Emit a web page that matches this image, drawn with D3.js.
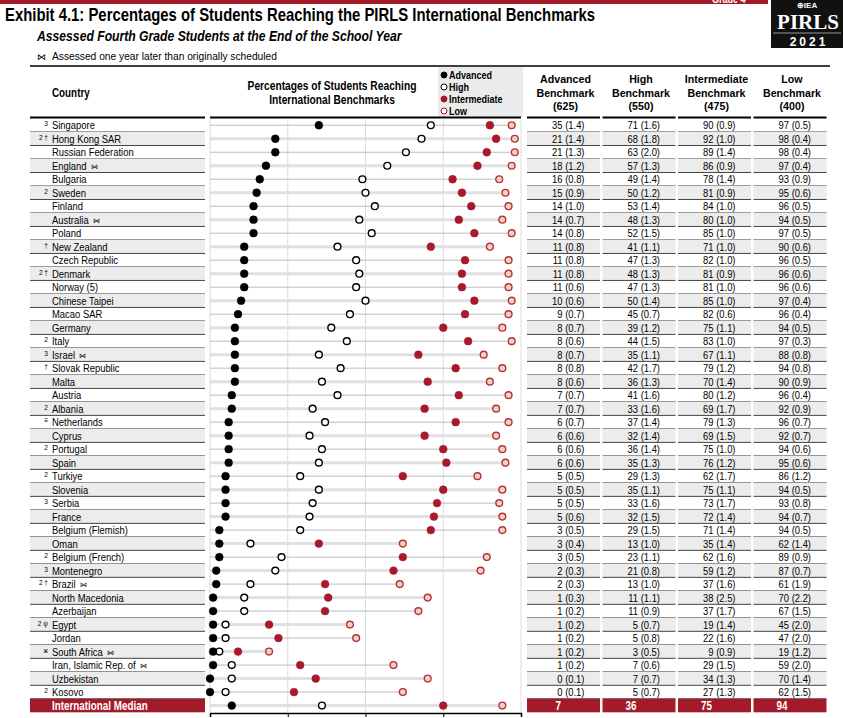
<!DOCTYPE html>
<html>
<head>
<meta charset="utf-8">
<script src="https://cdn.jsdelivr.net/npm/d3@7"></script>
<style>
  body { margin: 0; background: #fff; }
  svg text { font-family: "Liberation Sans", Arial, sans-serif; }
</style>
</head>
<body>
<svg id="chart"></svg>
<script>
const countries = [
  "Singapore", "Hong Kong SAR", "Russian Federation", "England", "Bulgaria",
  "Sweden", "Finland", "Australia", "Poland", "New Zealand", "Czech Republic",
  "Denmark", "Norway (5)", "Chinese Taipei", "Macao SAR", "Germany", "Italy",
  "Israel", "Slovak Republic", "Malta", "Austria", "Albania", "Netherlands",
  "Cyprus", "Portugal", "Spain", "Turkiye", "Slovenia", "Serbia", "France",
  "Belgium (Flemish)", "Oman", "Belgium (French)", "Montenegro", "Brazil",
  "North Macedonia", "Azerbaijan", "Egypt", "Jordan", "South Africa",
  "Iran, Islamic Rep. of", "Uzbekistan", "Kosovo"
];
const footnotes = [
  "3", "2 †", "", "", "", "2", "", "", "", "†", "", "2 †", "", "", "", "", "2",
  "3", "†", "", "", "2", "≡", "", "2", "", "2", "", "3", "", "", "", "2", "3",
  "2 †", "", "", "2 ψ", "", "ж", "", "", "2"
];
const delayed = [
  "England", "Australia", "Israel", "Brazil", "South Africa", "Iran, Islamic Rep. of"
];
const advanced = [35, 21, 21, 18, 16, 15, 14, 14, 14, 11, 11, 11, 11, 10, 9, 8, 8, 8, 8, 8, 7, 7, 6, 6, 6, 6, 5, 5, 5, 5, 3, 3, 3, 2, 2, 1, 1, 1, 1, 1, 1, 0, 0];
const advancedSE = ["1.4", "1.4", "1.3", "1.2", "0.8", "0.9", "1.0", "0.7", "0.8", "0.8", "0.8", "0.8", "0.6", "0.6", "0.7", "0.7", "0.6", "0.7", "0.8", "0.6", "0.7", "0.7", "0.7", "0.6", "0.6", "0.6", "0.5", "0.5", "0.5", "0.6", "0.5", "0.4", "0.5", "0.3", "0.3", "0.3", "0.2", "0.2", "0.2", "0.2", "0.2", "0.1", "0.1"];
const high = [71, 68, 63, 57, 49, 50, 53, 48, 52, 41, 47, 48, 47, 50, 45, 39, 44, 35, 42, 36, 41, 33, 37, 32, 36, 35, 29, 35, 33, 32, 29, 13, 23, 21, 13, 11, 11, 5, 5, 3, 7, 7, 5];
const highSE = ["1.6", "1.8", "2.0", "1.3", "1.4", "1.2", "1.4", "1.3", "1.5", "1.1", "1.3", "1.3", "1.3", "1.4", "0.7", "1.2", "1.5", "1.1", "1.7", "1.3", "1.6", "1.6", "1.4", "1.4", "1.4", "1.3", "1.3", "1.1", "1.6", "1.5", "1.5", "1.0", "1.1", "0.8", "1.0", "1.1", "0.9", "0.7", "0.8", "0.5", "0.6", "0.7", "0.7"];
const intermediate = [90, 92, 89, 86, 78, 81, 84, 80, 85, 71, 82, 81, 81, 85, 82, 75, 83, 67, 79, 70, 80, 69, 79, 69, 75, 76, 62, 75, 73, 72, 71, 35, 62, 59, 37, 38, 37, 19, 22, 9, 29, 34, 27];
const intermediateSE = ["0.9", "1.0", "1.4", "0.9", "1.4", "0.9", "1.0", "1.0", "1.0", "1.0", "1.0", "0.9", "1.0", "1.0", "0.6", "1.1", "1.0", "1.1", "1.2", "1.4", "1.2", "1.7", "1.3", "1.5", "1.0", "1.2", "1.7", "1.1", "1.7", "1.4", "1.4", "1.4", "1.6", "1.2", "1.6", "2.5", "1.7", "1.4", "1.6", "0.9", "1.5", "1.3", "1.3"];
const low = [97, 98, 98, 97, 93, 95, 96, 94, 97, 90, 96, 96, 96, 97, 96, 94, 97, 88, 94, 90, 96, 92, 96, 92, 94, 95, 86, 94, 93, 94, 94, 62, 89, 87, 61, 70, 67, 45, 47, 19, 59, 70, 62];
const lowSE = ["0.5", "0.4", "0.4", "0.4", "0.9", "0.6", "0.5", "0.5", "0.5", "0.6", "0.5", "0.6", "0.6", "0.4", "0.4", "0.5", "0.3", "0.8", "0.8", "0.9", "0.4", "0.9", "0.7", "0.7", "0.6", "0.6", "1.2", "0.5", "0.8", "0.7", "0.5", "1.4", "0.9", "0.7", "1.9", "2.2", "1.5", "2.0", "2.0", "1.2", "2.0", "1.4", "1.5"];
const medianValues = [7, 36, 75, 94];
const benchmarks = ["Advanced", "High", "Intermediate", "Low"];
const cutScores = [625, 550, 475, 400];
const axisTicks = [0, 25, 50, 75, 100];

const W = 843, H = 718;
const RED = "#a31b2a";
const NARROW = 0.82; // squeeze Liberation Sans to look like Arial Narrow

const svg = d3.select("#chart").attr("width", W).attr("height", H);

// squeeze one text element horizontally about its anchor point, returns new width
function narrow(t, f = NARROW) {
  const node = t.node();
  const len = node.getComputedTextLength();
  const tx = +t.attr("x"), ty = +t.attr("y");
  t.attr("x", 0).attr("y", 0).attr("transform", `translate(${tx},${ty}) scale(${f},1)`);
  return len * f;
}

// --- top banner and logo
svg.append("rect").attr("x", 0).attr("y", 0).attr("width", 768).attr("height", 4).attr("fill", RED);
narrow(svg.append("text").attr("x", 712).attr("y", 3).attr("fill", "#fff")
  .attr("font-size", 11).attr("font-weight", "bold").text("Grade 4"));
const logo = svg.append("g");
logo.append("rect").attr("x", 771).attr("y", 0).attr("width", 72).attr("height", 48).attr("fill", "#111");
logo.append("text").attr("x", 807).attr("y", 8).attr("text-anchor", "middle").attr("fill", "#fff")
  .attr("font-size", 8).attr("font-weight", "bold").text("⊕IEA");
logo.append("text").attr("x", 808).attr("y", 29).attr("text-anchor", "middle").attr("fill", "#fff")
  .style("font-family", "'Liberation Serif', 'DejaVu Serif', serif")
  .attr("font-size", 21).attr("font-weight", "bold").text("PIRLS");
logo.append("line").attr("x1", 773).attr("x2", 841).attr("y1", 33).attr("y2", 33)
  .attr("stroke", "#999").attr("stroke-width", 1);
logo.append("text").attr("x", 809).attr("y", 46).attr("text-anchor", "middle").attr("fill", "#fff")
  .attr("font-size", 12).attr("font-weight", "bold").attr("letter-spacing", 3).text("2021");

// --- titles
narrow(svg.append("text").attr("x", 5).attr("y", 21).attr("font-size", 17.5).attr("font-weight", "bold")
  .text("Exhibit 4.1: Percentages of Students Reaching the PIRLS International Benchmarks"), 0.85);
narrow(svg.append("text").attr("x", 37).attr("y", 41).attr("font-size", 14).attr("font-weight", "bold")
  .attr("font-style", "italic").text("Assessed Fourth Grade Students at the End of the School Year"), 0.87);
svg.append("text").attr("x", 37).attr("y", 60).attr("font-size", 9).text("⋈");
narrow(svg.append("text").attr("x", 52).attr("y", 60).attr("font-size", 11)
  .text("Assessed one year later than originally scheduled"), 0.93);

// --- layout
const rows = countries.map((c, i) => ({
  name: c, mark: footnotes[i], delayed: delayed.includes(c),
  values: [advanced[i], high[i], intermediate[i], low[i]],
  se: [advancedSE[i], highSE[i], intermediateSE[i], lowSE[i]]
}));
const allRows = rows.concat([{ name: "International Median", median: true, values: medianValues }]);

const y = d3.scaleBand().domain(d3.range(allRows.length)).range([118.5, 712.3]);
const x = d3.scaleLinear().domain([0, 100]).range([210, 521]);
const countryCol = [30, 205];
const colLefts = [527, 602.5, 678, 753.5];
const colW = 73;

// --- header
svg.append("line").attr("x1", 30).attr("x2", 830).attr("y1", 66).attr("y2", 66)
  .attr("stroke", "#000").attr("stroke-width", 1.5);
narrow(svg.append("text").attr("x", 52).attr("y", 97).attr("font-size", 12).attr("font-weight", "bold").text("Country"));
narrow(svg.append("text").attr("x", 332).attr("y", 90).attr("text-anchor", "middle")
  .attr("font-size", 12).attr("font-weight", "bold").text("Percentages of Students Reaching"), 0.854);
narrow(svg.append("text").attr("x", 332).attr("y", 104).attr("text-anchor", "middle")
  .attr("font-size", 12).attr("font-weight", "bold").text("International Benchmarks"), 0.854);

// legend box
svg.append("rect").attr("x", 438).attr("y", 67).attr("width", 85).attr("height", 50).attr("fill", "#ebebeb");
const legendStyle = [
  { fill: "#000", stroke: "#000" },
  { fill: "#fff", stroke: "#000" },
  { fill: RED, stroke: RED },
  { fill: "#fff", stroke: RED }
];
benchmarks.forEach((b, i) => {
  const ly = 75 + i * 12;
  svg.append("circle").attr("cx", 444).attr("cy", ly).attr("r", 3)
    .attr("fill", legendStyle[i].fill).attr("stroke", legendStyle[i].stroke).attr("stroke-width", 1);
  narrow(svg.append("text").attr("x", 449).attr("y", ly + 3.6).attr("font-size", 10.5).attr("font-weight", "bold")
    .text(b), 0.86);
});

// benchmark column headers
benchmarks.forEach((b, i) => {
  const cx = colLefts[i] + colW / 2 + 2;
  [b, "Benchmark", `(${cutScores[i]})`].forEach((s, k) => {
    narrow(svg.append("text").attr("x", cx).attr("y", 83 + k * 13.5).attr("text-anchor", "middle")
      .attr("font-size", 11.5).attr("font-weight", "bold").text(s), 0.927);
  });
});

// header bottom rules per column
[countryCol, [210, 521]].concat(colLefts.map(l => [l, l + colW])).forEach(([a, b]) => {
  svg.append("line").attr("x1", a).attr("x2", b).attr("y1", 117.5).attr("y2", 117.5)
    .attr("stroke", "#000").attr("stroke-width", 2);
});

// --- row backgrounds
const bgCols = [countryCol].concat(colLefts.map(l => [l, l + colW]));
allRows.forEach((r, i) => {
  const top = y(i), h = y.bandwidth();
  bgCols.forEach(([a, b]) => {
    if (r.median) {
      svg.append("rect").attr("x", a).attr("y", top).attr("width", b - a).attr("height", h).attr("fill", RED);
    } else {
      if (i % 2 === 1) {
        svg.append("rect").attr("x", a).attr("y", top).attr("width", b - a).attr("height", h).attr("fill", "#ececec");
      }
      svg.append("line").attr("x1", a).attr("x2", b).attr("y1", top + h).attr("y2", top + h)
        .attr("stroke", "#444").attr("stroke-width", 1);
    }
  });
});

// --- plot gridlines
svg.append("g").selectAll("line").data(axisTicks).join("line")
  .attr("x1", d => x(d)).attr("x2", d => x(d))
  .attr("y1", 118.5).attr("y2", 712.3)
  .attr("stroke", "#dcdcdc").attr("stroke-width", 1);

// row lines 0 -> Low
allRows.forEach((r, i) => {
  const cy = y(i) + y.bandwidth() / 2;
  const odd = i % 2 === 1;
  svg.append("line").attr("x1", x(0)).attr("x2", x(r.values[3]))
    .attr("y1", cy).attr("y2", cy)
    .attr("stroke", odd ? "#e0e0e0" : "#bdbdbd").attr("stroke-width", odd ? 3 : 1);
});

// dots
const dotStyle = [
  { fill: "#000", stroke: "#000" },
  { fill: "#fff", stroke: "#000" },
  { fill: "#a8192b", stroke: "#a8192b" },
  { fill: "#f1d2c1", stroke: "#b5323c" }
];
[3, 2, 1, 0].forEach(k => {
  svg.append("g").selectAll("circle").data(allRows).join("circle")
    .attr("cx", d => x(d.values[k]))
    .attr("cy", (d, i) => y(i) + y.bandwidth() / 2)
    .attr("r", k % 2 === 0 ? 3.9 : 3.4)
    .attr("fill", dotStyle[k].fill)
    .attr("stroke", dotStyle[k].stroke)
    .attr("stroke-width", k % 2 === 0 ? 0.5 : 1.4);
});

// axis
svg.append("g").attr("transform", "translate(0,713)")
  .call(d3.axisBottom(x).tickValues(axisTicks).tickSize(4))
  .call(g => g.selectAll("text").attr("font-size", 9))
  .call(g => g.select(".domain").attr("stroke-width", 1.5));

// --- country labels
allRows.forEach((r, i) => {
  const cy = y(i) + y.bandwidth() / 2;
  if (r.median) {
    narrow(svg.append("text").attr("x", 52).attr("y", cy + 4).attr("font-size", 12).attr("font-weight", "bold")
      .attr("fill", "#fff").text(r.name));
    return;
  }
  if (r.mark) {
    narrow(svg.append("text").attr("x", 48).attr("y", cy + 1).attr("text-anchor", "end")
      .attr("font-size", 8).text(r.mark));
  }
  const w = narrow(svg.append("text").attr("x", 52).attr("y", cy + 4).attr("font-size", 11.5).text(r.name));
  if (r.delayed) {
    svg.append("text").attr("x", 52 + w + 4).attr("y", cy + 3).attr("font-size", 7).text("⋈");
  }
});

// --- table values
allRows.forEach((r, i) => {
  const cy = y(i) + y.bandwidth() / 2;
  colLefts.forEach((l, k) => {
    if (r.median) {
      narrow(svg.append("text").attr("x", l + 34).attr("y", cy + 4).attr("text-anchor", "end")
        .attr("font-size", 12).attr("font-weight", "bold").attr("fill", "#fff").text(r.values[k]));
    } else {
      narrow(svg.append("text").attr("x", l + 57.5).attr("y", cy + 4).attr("text-anchor", "end")
        .attr("font-size", 11.5).text(`${r.values[k]} (${r.se[k]})`));
    }
  });
});
</script>
</body>
</html>
